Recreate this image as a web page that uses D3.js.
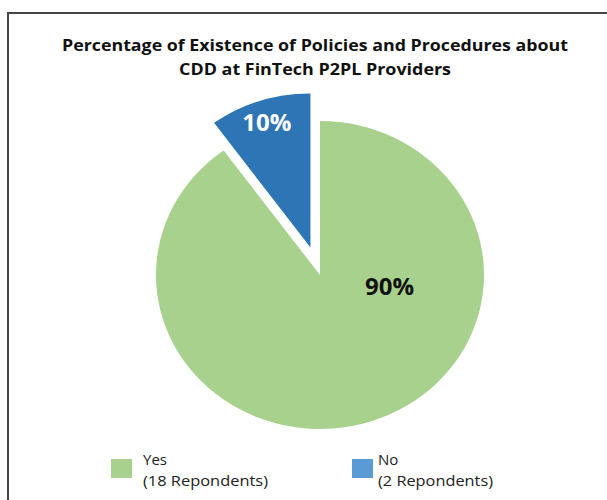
<!DOCTYPE html>
<html>
<head>
<meta charset="utf-8">
<script src="https://cdn.jsdelivr.net/npm/d3@7"></script>
<style>
  html, body { margin: 0; padding: 0; background: #fff; }
  svg { display: block; }
  text { font-family: "Open Sans", "Segoe UI", Arial, sans-serif; }
</style>
</head>
<body>
<div id="chart"></div>
<script>
// ---- data ----
const categories = ["Yes", "No"];
const respondents = [18, 2];
const percentLabels = ["90%", "10%"];
const legendNotes = ["(18 Repondents)", "(2 Repondents)"];
const titleLines = [
  "Percentage of Existence of Policies and Procedures about",
  "CDD at FinTech P2PL Providers"
];

// ---- styles ----
const sliceColors = ["#A9D18E", "#2E75B6"];
const legendColors = ["#A9D18E", "#5B9BD5"];
const labelColors = ["#111111", "#ffffff"];

const W = 607, H = 500;
const svg = d3.select("#chart").append("svg")
  .attr("width", W).attr("height", H);

// chart border
svg.append("rect")
  .attr("x", 8).attr("y", 13)
  .attr("width", W + 20).attr("height", H + 20)
  .attr("fill", "#fff")
  .attr("stroke", "#454545")
  .attr("stroke-width", 2);

// title
const titleWidths = [506, 272];
titleLines.forEach((line, i) => {
  svg.append("text")
    .attr("x", 315)
    .attr("y", 51 + i * 24)
    .attr("text-anchor", "middle")
    .attr("font-weight", "bold")
    .attr("font-size", 16.5)
    .attr("fill", "#111")
    .attr("textLength", titleWidths[i])
    .attr("lengthAdjust", "spacingAndGlyphs")
    .text(line);
});

// pie
const cx = 320, cy = 275, r = 154, sx = 1.065;
const explode = 29;
const pie = d3.pie().sort(null).value(d => d);
const arcs = pie(respondents);
const arc = d3.arc().innerRadius(0).outerRadius(r);

const g = svg.append("g")
  .attr("transform", `translate(${cx},${cy}) scale(${sx},1)`);

g.selectAll("path")
  .data(arcs)
  .join("path")
  .attr("d", arc)
  .attr("fill", (d, i) => sliceColors[i])
  .attr("transform", (d, i) => {
    if (i !== 1) return null;
    const a = (d.startAngle + d.endAngle) / 2;
    return `translate(${Math.sin(a) * explode},${-Math.cos(a) * explode})`;
  });

// data labels (Excel-style placement)
const labelPos = [
  { angle: 1.73, rad: 0.43, off: 0 },
  { angle: null, rad: 0.86, off: explode }
];
arcs.forEach((d, i) => {
  const a = labelPos[i].angle !== null ? labelPos[i].angle : (d.startAngle + d.endAngle) / 2;
  const rr = labelPos[i].rad * r + labelPos[i].off;
  const x = cx + Math.sin(a) * rr * sx;
  const y = cy - Math.cos(a) * rr;
  svg.append("text")
    .attr("x", x).attr("y", y)
    .attr("text-anchor", "middle")
    .attr("dominant-baseline", "central")
    .attr("font-weight", "bold")
    .attr("font-size", 24)
    .attr("fill", labelColors[i])
    .text(percentLabels[i]);
});

// legend
const legendX = [111, 352];
const legendTextX = [143, 378];
const noteWidths = [125, 115];
const lg = svg.append("g");
categories.forEach((c, i) => {
  lg.append("rect")
    .attr("x", legendX[i]).attr("y", 459)
    .attr("width", 21).attr("height", 19)
    .attr("fill", legendColors[i]);
  lg.append("text")
    .attr("x", legendTextX[i]).attr("y", 465)
    .attr("font-size", 15)
    .attr("fill", "#222")
    .text(c);
  lg.append("text")
    .attr("x", legendTextX[i]).attr("y", 486)
    .attr("font-size", 15)
    .attr("fill", "#222")
    .attr("textLength", noteWidths[i])
    .attr("lengthAdjust", "spacingAndGlyphs")
    .text(legendNotes[i]);
});
</script>
</body>
</html>
